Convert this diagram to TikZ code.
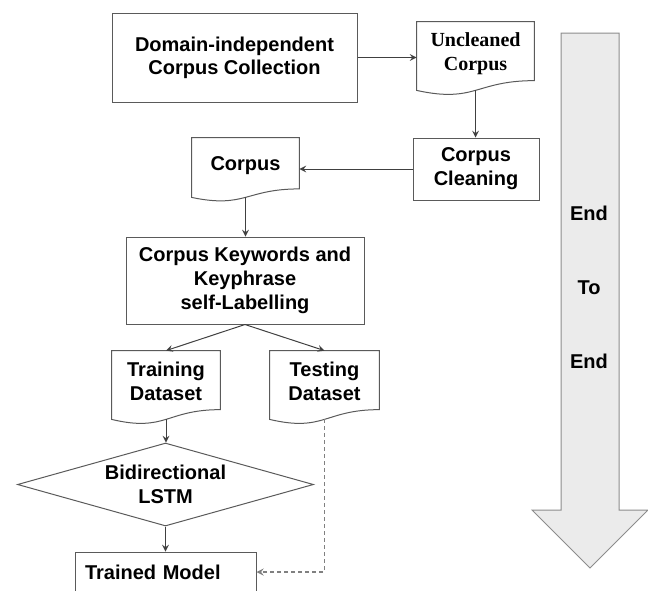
\documentclass[tikz,border=0pt]{standalone}
\usepackage{fontspec}
\setmainfont{Liberation Sans}
\newfontfamily\timesfont{Liberation Serif}
\usepackage{tikz}
\usetikzlibrary{shapes.geometric,arrows,calc}
\definecolor{boxline}{HTML}{5A5A5A}
\definecolor{bigfill}{HTML}{EBEBEB}
\definecolor{bigline}{HTML}{8C8C8C}
\tikzstyle{txt} = [font=\fontsize{10pt}{12pt}\selectfont\bfseries]
\tikzstyle{process} = [rectangle, draw=boxline, line width=0.5pt, align=center, txt]
\tikzstyle{doc} = [rectangle, align=center, inner sep=0pt, txt, execute at end node={\rule[-4pt]{0pt}{0pt}}]
\tikzstyle{decision} = [diamond, draw=boxline, line width=0.5pt, align=center, aspect=3.6, inner sep=0pt, txt]
\tikzstyle{arrow} = [line width=0.5pt, draw=black!75, ->, >=stealth]
\tikzstyle{dasharrow} = [line width=0.6pt, draw=black!50, dash pattern=on 2pt off 1.5pt, ->, >=stealth]
% wavy bottom of a document node
\newcommand{\docoutline}[1]{%
  \draw[draw=boxline, line width=0.5pt] let \p1=(#1.north west), \p2=(#1.south east), \n2={\y1-\y2} in
    (\p1) -- (\x2,\y1) -- (\x2,{\y1-0.858*\n2})
    .. controls ({0.5*\x1+0.5*\x2},{\y1-0.858*\n2}) and ({0.5*\x1+0.5*\x2},{\y1-1.188*\n2}) .. (\x1,\y2) -- cycle;}

\begin{document}
\begin{tikzpicture}[x=0.5pt, y=-0.5pt]
\useasboundingbox (0,0) rectangle (648,590);

% end to end arrow
\draw[draw=bigline, fill=bigfill, line width=0.5pt] (561,33) -- (619,33) -- (619,510) -- (648,510)
  -- (590,568) -- (532,510) -- (561,510) -- cycle;
\node (e2e) [txt, align=center] at (589,287) {End\\[25pt]To\\[25pt]End};

\node (collect) [process, minimum width=122.5pt, minimum height=44.5pt] at (234.5,57.5) {Domain-independent\\[-0.5pt]Corpus Collection};
\node (uncleaned) [doc, minimum width=58.5pt, minimum height=34pt] at (475.5,56) {\timesfont Uncleaned\\\timesfont Corpus};
\node (cleaning) [process, minimum width=63pt, minimum height=31pt] at (476,169) {Corpus\\Cleaning};
\node (corpus) [doc, minimum width=53.5pt, minimum height=29.5pt] at (245.5,167.5) {Corpus};
\node (labelling) [process, minimum width=119pt, minimum height=43.5pt] at (245,280.5) {Corpus Keywords and\\Keyphrase\\self-Labelling};
\node (train) [doc, minimum width=54pt, minimum height=34pt] at (166,385) {Training\\Dataset};
\node (test) [doc, minimum width=54.5pt, minimum height=34pt] at (324.5,385) {Testing\\Dataset};
\node (lstm) [decision, minimum width=148pt, minimum height=41.5pt] at (165.5,484.5) {Bidirectional\\LSTM};
\node (model) [process, text width=80.5pt, align=left, inner xsep=5pt, minimum height=20pt] at (165.5,572) {Trained Model};

\docoutline{uncleaned}
\docoutline{corpus}
\docoutline{train}
\docoutline{test}

\draw [arrow] (collect.east) -- (collect.east -| uncleaned.west);
\draw [arrow] (uncleaned.south) -- (uncleaned.south |- cleaning.north);
\draw [arrow] (cleaning.west) -- (cleaning.west -| corpus.east);
\draw [arrow] (corpus.south) -- (corpus.south |- labelling.north);
\draw [arrow] (labelling.south) -- (train.north);
\draw [arrow] (labelling.south) -- (test.north);
\draw [arrow] (train.south) -- (train.south |- lstm.north);
\draw [arrow] (lstm.south) -- (model.north);
\draw [dasharrow] (test.south) |- (model.east);
\end{tikzpicture}
\end{document}
